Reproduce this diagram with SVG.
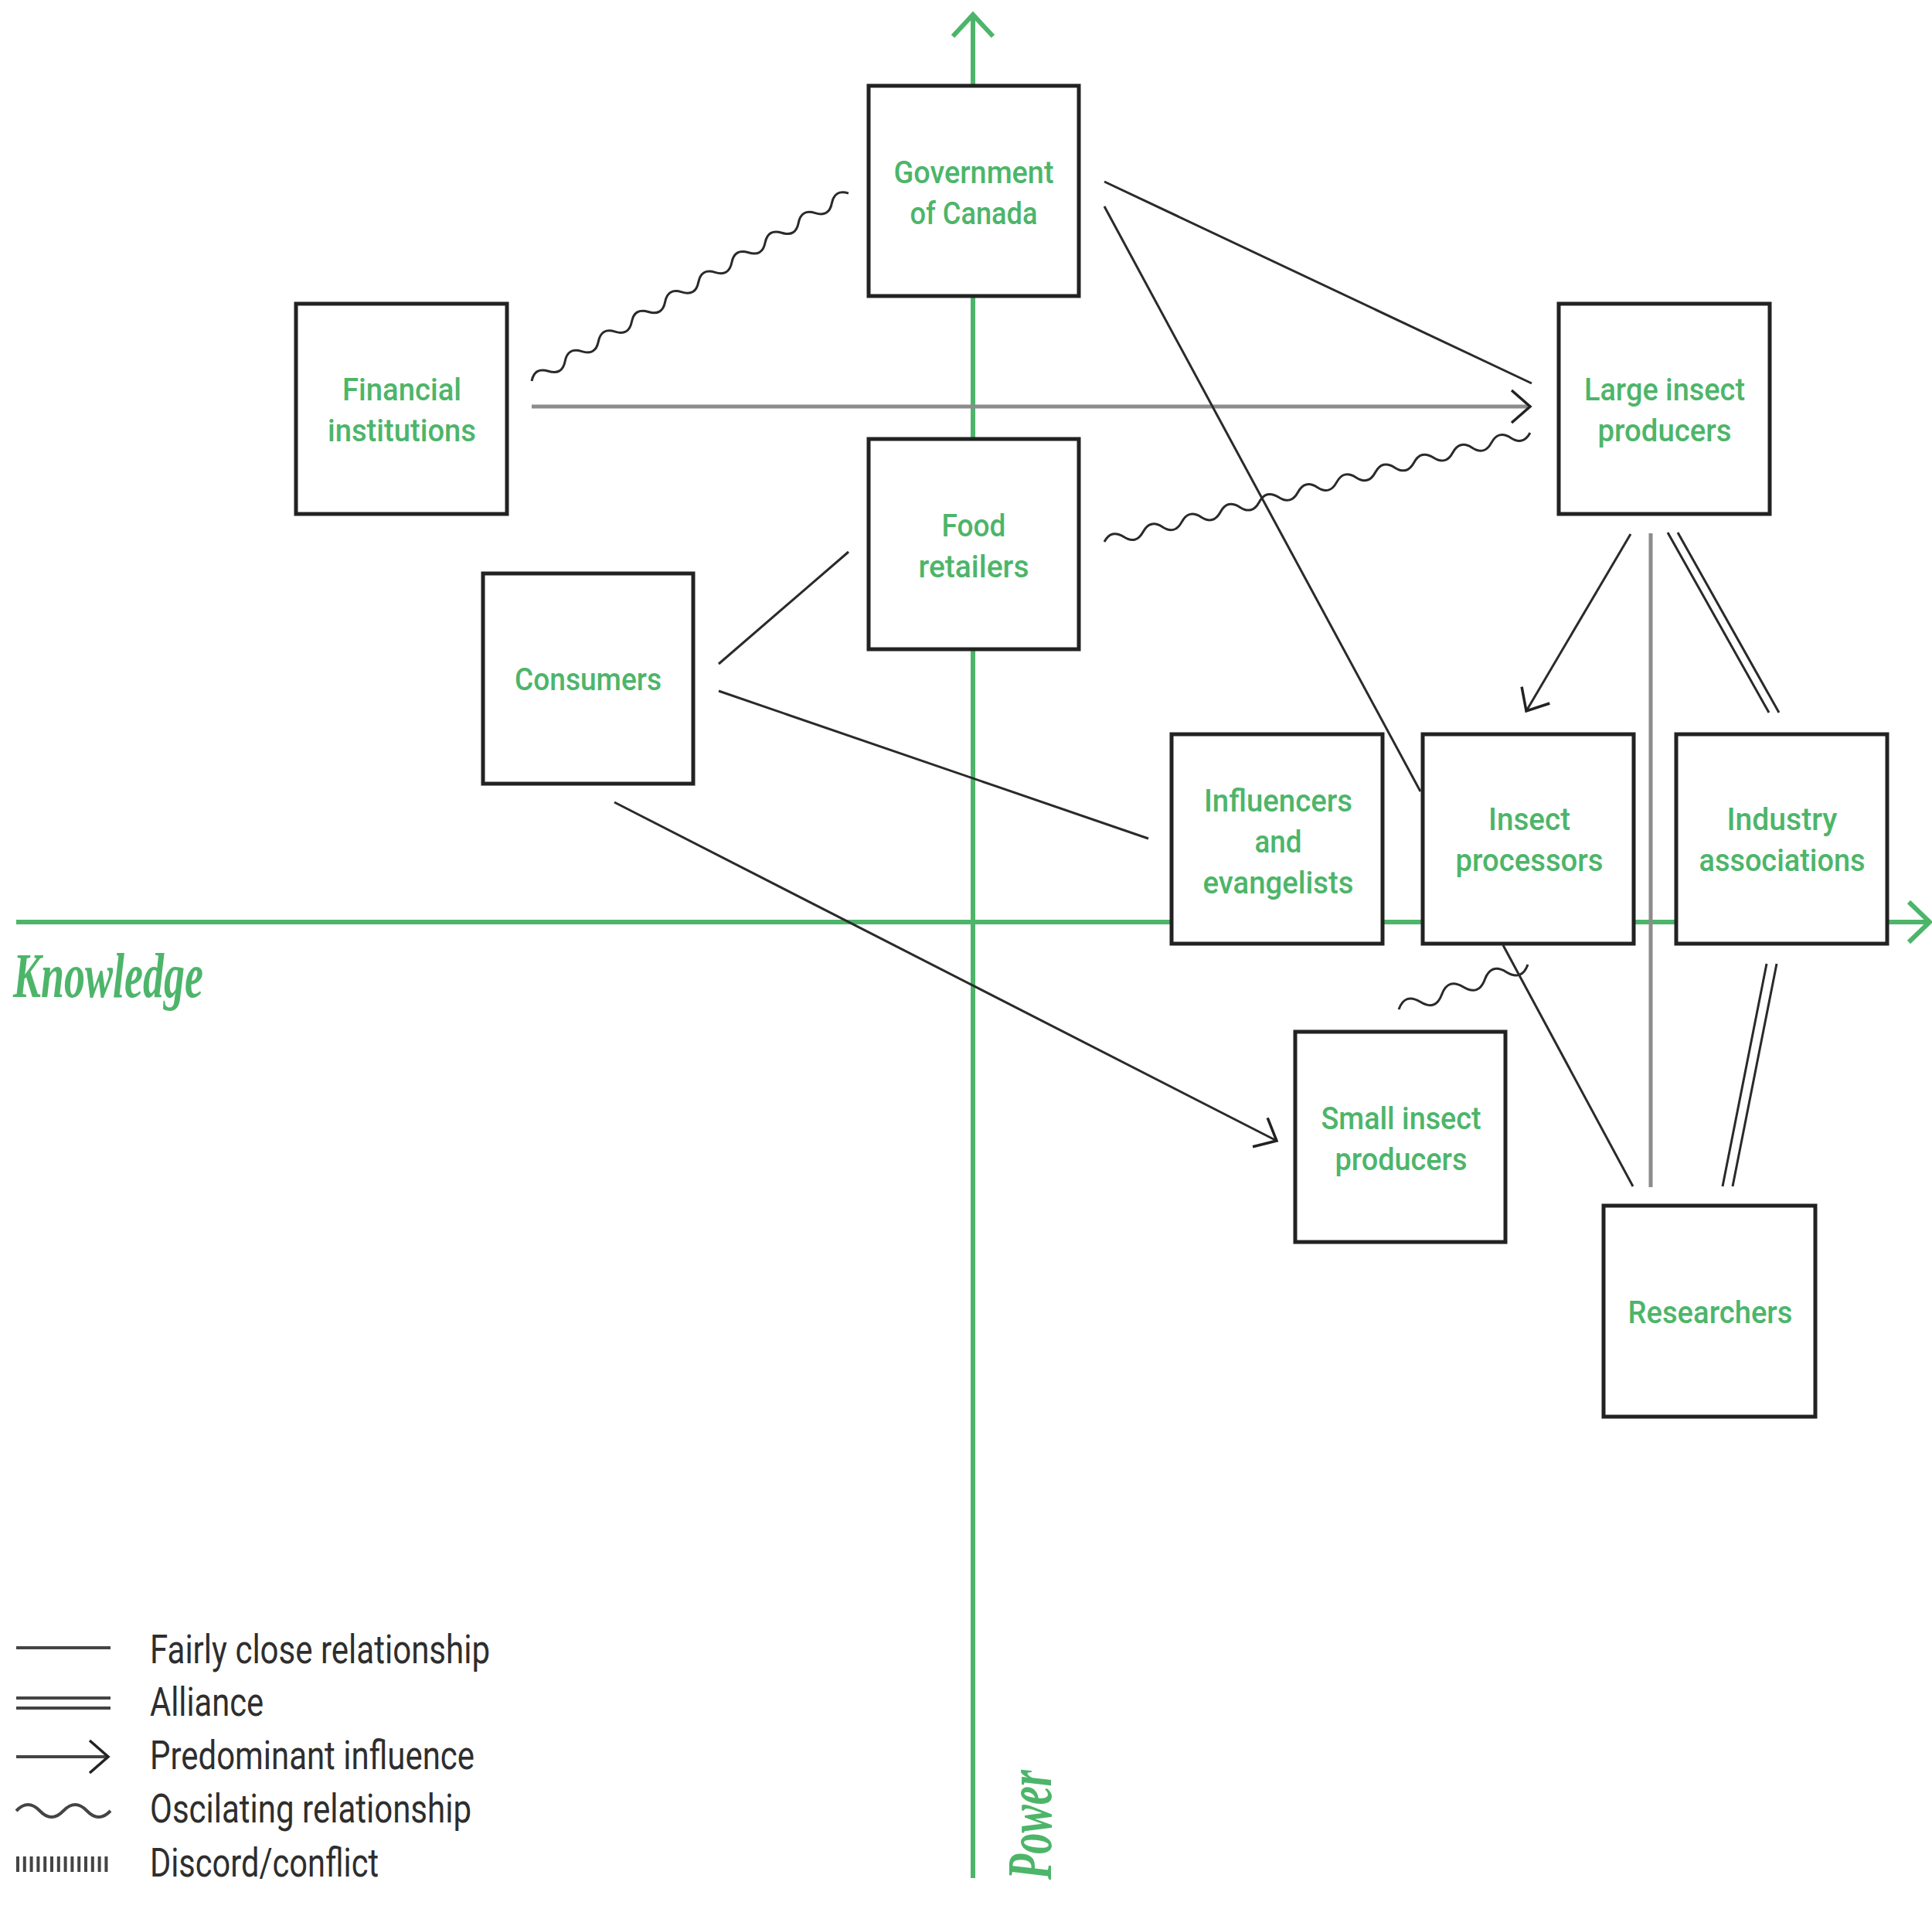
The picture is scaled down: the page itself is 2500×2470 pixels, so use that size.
<svg xmlns="http://www.w3.org/2000/svg" width="2500" height="2470" viewBox="0 0 2500 2470">
<style>
.box{fill:#fff;stroke:#222;stroke-width:5}
.lbl{font-family:Roboto,"Liberation Sans",Arial,sans-serif;font-weight:500;font-size:41px;fill:#4db56a;text-anchor:middle}
.ln{fill:none;stroke:#2a2a2a;stroke-width:3}
.gr{fill:none;stroke:#8c8c8c;stroke-width:5}
.axis{fill:none;stroke:#4db56a;stroke-width:6}
.ax{font-family:"Liberation Serif","Times New Roman",serif;font-style:italic;font-weight:bold;font-size:82px;fill:#4db56a}
.leg{font-family:Roboto,"Liberation Sans",Arial,sans-serif;font-size:52px;fill:#2e2e2e}
.legl{fill:none;stroke:#444;stroke-width:4}
</style>
<defs>
<marker id="arr" markerUnits="userSpaceOnUse" markerWidth="60" markerHeight="60" viewBox="-30 -30 60 60" refX="0" refY="0" orient="auto" overflow="visible">
<path d="M-24,-21 L0,0 L-24,21" fill="none" stroke="#222" stroke-width="3.5"/>
</marker>
</defs>
<rect width="2500" height="2470" fill="#fff"/>
<g id="axes">
<path class="axis" d="M1259,2430 V20"/>
<path class="axis" d="M1233,47 L1259,19 L1285,47"/>
<path class="axis" d="M21,1193 H2496"/>
<path class="axis" d="M2470,1167 L2497,1193 L2470,1219"/>
<text class="ax" x="17" y="1290" textLength="246" lengthAdjust="spacingAndGlyphs">Knowledge</text>
<text class="ax" transform="translate(1360,2432) rotate(-90)" x="0" y="0" textLength="142" lengthAdjust="spacingAndGlyphs">Power</text>
</g>
<g id="connectors">
<path class="ln" transform="translate(688,493) rotate(-30.65)" d="M0,0 q12.54,-14 25.08,0 t25.08,0 t25.08,0 t25.08,0 t25.08,0 t25.08,0 t25.08,0 t25.08,0 t25.08,0 t25.08,0 t25.08,0 t25.08,0 t25.08,0 t25.08,0 t25.08,0 t25.08,0 t25.08,0 t25.08,0 t25.08,0"/>
<path class="gr" d="M688,526 H1978"/>
<path class="ln" d="M1900,526 H1980" stroke-opacity="0" marker-end="url(#arr)"/>
<path class="ln" d="M1429,235 L1982,496"/>
<path class="ln" d="M1429,267 L1838,1024"/>
<path class="ln" transform="translate(1429,701) rotate(-14.35)" d="M0,0 q12.93,-14 25.85,0 t25.85,0 t25.85,0 t25.85,0 t25.85,0 t25.85,0 t25.85,0 t25.85,0 t25.85,0 t25.85,0 t25.85,0 t25.85,0 t25.85,0 t25.85,0 t25.85,0 t25.85,0 t25.85,0 t25.85,0 t25.85,0 t25.85,0 t25.85,0 t25.85,0"/>
<path class="ln" d="M930,859 L1098,714"/>
<path class="ln" d="M930,894 L1486,1085"/>
<path class="ln" d="M795,1038 L1652,1476" marker-end="url(#arr)"/>
<path class="ln" d="M2110,691 L1975,920" marker-end="url(#arr)"/>
<path class="gr" d="M2136,690 V1536"/>
<path class="ln" d="M2158,689 L2289,922 M2171,689 L2302,922"/>
<path class="ln" d="M2286,1247 L2229,1535 M2299,1247 L2242,1535"/>
<path class="ln" d="M1945,1223 L2113,1535"/>
<path class="ln" transform="translate(1810,1306) rotate(-19.15)" d="M0,0 q14.74,-18 29.47,0 t29.47,0 t29.47,0 t29.47,0 t29.47,0 t29.47,0"/>
</g>
<g id="gov"><rect class="box" x="1124" y="111" width="272" height="272"/>
<text class="lbl" x="1260" y="237" textLength="207" lengthAdjust="spacingAndGlyphs">Government</text>
<text class="lbl" x="1260" y="290" textLength="165" lengthAdjust="spacingAndGlyphs">of Canada</text></g>
<g id="fin"><rect class="box" x="383" y="393" width="273" height="272"/>
<text class="lbl" x="520" y="518" textLength="154" lengthAdjust="spacingAndGlyphs">Financial</text>
<text class="lbl" x="520" y="571" textLength="192" lengthAdjust="spacingAndGlyphs">institutions</text></g>
<g id="food"><rect class="box" x="1124" y="568" width="272" height="272"/>
<text class="lbl" x="1260" y="694" textLength="83" lengthAdjust="spacingAndGlyphs">Food</text>
<text class="lbl" x="1260" y="747" textLength="143" lengthAdjust="spacingAndGlyphs">retailers</text></g>
<g id="consumers"><rect class="box" x="625" y="742" width="272" height="272"/>
<text class="lbl" x="761" y="893" textLength="190" lengthAdjust="spacingAndGlyphs">Consumers</text></g>
<g id="large"><rect class="box" x="2017" y="393" width="273" height="272"/>
<text class="lbl" x="2154" y="518" textLength="208" lengthAdjust="spacingAndGlyphs">Large insect</text>
<text class="lbl" x="2154" y="571" textLength="173" lengthAdjust="spacingAndGlyphs">producers</text></g>
<g id="influencers"><rect class="box" x="1516" y="950" width="273" height="271"/>
<text class="lbl" x="1654" y="1050" textLength="192" lengthAdjust="spacingAndGlyphs">Influencers</text>
<text class="lbl" x="1654" y="1103" textLength="61" lengthAdjust="spacingAndGlyphs">and</text>
<text class="lbl" x="1654" y="1156" textLength="195" lengthAdjust="spacingAndGlyphs">evangelists</text></g>
<g id="processors"><rect class="box" x="1841" y="950" width="273" height="271"/>
<text class="lbl" x="1979" y="1074" textLength="106" lengthAdjust="spacingAndGlyphs">Insect</text>
<text class="lbl" x="1979" y="1127" textLength="191" lengthAdjust="spacingAndGlyphs">processors</text></g>
<g id="industry"><rect class="box" x="2169" y="950" width="273" height="271"/>
<text class="lbl" x="2306" y="1074" textLength="143" lengthAdjust="spacingAndGlyphs">Industry</text>
<text class="lbl" x="2306" y="1127" textLength="215" lengthAdjust="spacingAndGlyphs">associations</text></g>
<g id="small"><rect class="box" x="1676" y="1335" width="272" height="272"/>
<text class="lbl" x="1813" y="1461" textLength="207" lengthAdjust="spacingAndGlyphs">Small insect</text>
<text class="lbl" x="1813" y="1514" textLength="171" lengthAdjust="spacingAndGlyphs">producers</text></g>
<g id="researchers"><rect class="box" x="2075" y="1560" width="274" height="273"/>
<text class="lbl" x="2213" y="1712" textLength="213" lengthAdjust="spacingAndGlyphs">Researchers</text></g>
<g id="legend">
<path class="legl" d="M21,2132 H143"/>
<path class="legl" d="M21,2197 H143 M21,2210 H143"/>
<path class="legl" d="M21,2273 H140" marker-end="url(#arr)"/>
<path class="legl" d="M21,2343 q15.25,-16 30.5,0 t30.5,0 t30.5,0 t30.5,0" stroke-width="3.5"/>
<path d="M21,2412 H143" fill="none" stroke="#444" stroke-width="20" stroke-dasharray="4 4.8"/>
<text class="leg" x="194" y="2152" textLength="440" lengthAdjust="spacingAndGlyphs">Fairly close relationship</text>
<text class="leg" x="194" y="2220" textLength="147" lengthAdjust="spacingAndGlyphs">Alliance</text>
<text class="leg" x="194" y="2289" textLength="420" lengthAdjust="spacingAndGlyphs">Predominant influence</text>
<text class="leg" x="194" y="2358" textLength="416" lengthAdjust="spacingAndGlyphs">Oscilating relationship</text>
<text class="leg" x="194" y="2428" textLength="296" lengthAdjust="spacingAndGlyphs">Discord/conflict</text>
</g>
</svg>
